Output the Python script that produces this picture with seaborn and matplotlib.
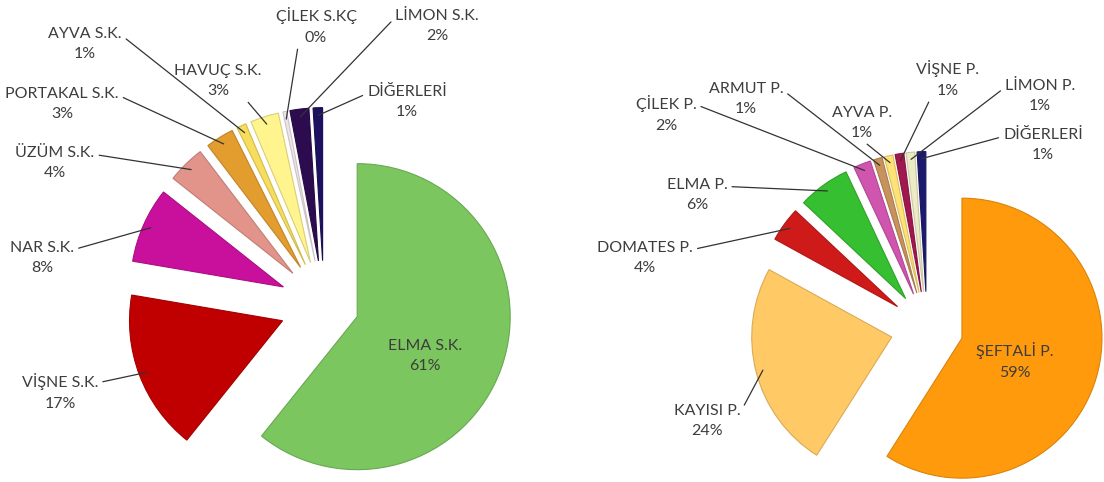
import numpy as np
import seaborn as sns
import matplotlib.pyplot as plt

sns.set_theme(style="white")
plt.rcParams['font.family'] = ['Lato', 'DejaVu Sans']

# left pie - meyve suyu / konsantre (S.K.)
left_names = ['ELMA S.K.', 'VİŞNE S.K.', 'NAR S.K.', 'ÜZÜM S.K.', 'PORTAKAL S.K.',
              'AYVA S.K.', 'HAVUÇ S.K.', 'ÇİLEK S.KÇ', 'LİMON S.K.', 'DİĞERLERİ']
left_values = [61, 17, 8, 4, 3, 1, 3, 0.4, 2, 1]
left_colors = ['#7cc660', '#c00000', '#c8109c', '#e2948a', '#e39d2e',
               '#f7dd5c', '#fff48e', '#efe4ea', '#2c0b4f', '#1e1160']

# right pie - pulp (P.)
right_names = ['ŞEFTALİ P.', 'KAYISI P.', 'DOMATES P.', 'ELMA P.', 'ÇİLEK P.',
               'ARMUT P.', 'AYVA P.', 'VİŞNE P.', 'LİMON P.', 'DİĞERLERİ']
right_values = [59, 24, 4, 6, 2, 1, 1, 1, 1, 1]
right_colors = ['#ff9a0c', '#ffc966', '#cf1a1a', '#36bf30', '#d055ae',
                '#c8925c', '#ffe275', '#a0184e', '#ecebc4', '#1b1a6e']

# layout (pixel space, y downward)
left_center, left_r = (324, 305), 153
right_center, right_r = (927, 328), 140
left_explode = [0.23] + [0.29] * 9
right_explode = [0.26] * 10

left_text_pos = [(425, 356), (60, 392), (42, 258), (55, 163), (62, 104),
                 (85, 44), (218, 81), (316, 26), (437, 26), (407, 102)]
left_relpos = [None, (1, 0.75), (1, 0.75), (1, 0.75), (1, 0.75),
               (1, 0.75), (0.72, 0.25), (0.3, 0.25), (0, 0.75), (0, 0.75)]
right_text_pos = [(1015, 361), (707, 421), (645, 258), (697, 195), (666, 114),
                  (746, 99), (862, 123), (948, 79), (1040, 96), (1043, 145)]
right_relpos = [None, (1, 0.75), (1, 0.75), (1, 0.75), (1, 0.75),
                (1, 0.75), (0.5, 0.0), (0.3, 0.25), (0, 0.75), (0, 0.75)]

text_color = '#3d3d3d'
font_size = 11.5
line_gap = 1.55

fig = plt.figure(figsize=(11.04, 4.82), dpi=100)
ax = fig.add_axes([0, 0, 1, 1])


def draw_pie(values, names, colors, center, r, explode, text_pos, relpos):
    cols = sns.color_palette(colors)
    wedges, _ = ax.pie(values, colors=cols, startangle=90, counterclock=False,
                       radius=r, center=(center[0], -center[1]),
                       explode=[e * r for e in explode],
                       wedgeprops=dict(linewidth=0.8))
    for w, c in zip(wedges, cols):
        w.set_edgecolor(tuple(np.array(c) * 0.85))
    for w, name, v, pos, rp in zip(wedges, names, values, text_pos, relpos):
        label = f"{name}\n{round(v)}%"
        xy_text = (pos[0], -pos[1])
        if rp is None:
            ax.text(*xy_text, label, ha='center', va='center', fontsize=font_size,
                    color=text_color, linespacing=line_gap)
            continue
        th = np.deg2rad((w.theta1 + w.theta2) / 2)
        cx, cy = w.center
        target = (cx + 0.95 * w.r * np.cos(th), cy + 0.95 * w.r * np.sin(th))
        ax.annotate(label, xy=target, xytext=xy_text, ha='center', va='center',
                    fontsize=font_size, color=text_color, linespacing=line_gap,
                    arrowprops=dict(arrowstyle='-', color='#333333', lw=0.9,
                                    shrinkA=1, shrinkB=0, relpos=rp))


draw_pie(left_values, left_names, left_colors, left_center, left_r,
         left_explode, left_text_pos, left_relpos)
draw_pie(right_values, right_names, right_colors, right_center, right_r,
         right_explode, right_text_pos, right_relpos)

ax.set_xlim(0, 1104)
ax.set_ylim(-482, 0)
ax.set_aspect('auto')
ax.axis('off')

fig.savefig('out.png', dpi=100, facecolor='white')
